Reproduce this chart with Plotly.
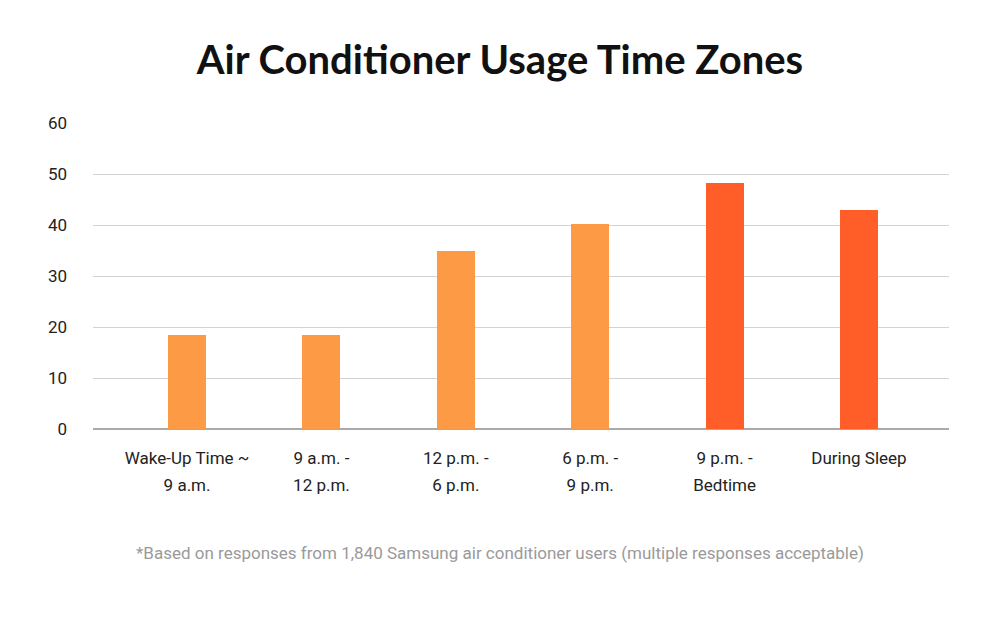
import plotly.graph_objects as go

line1_labels = ["Wake-Up Time ~", "9 a.m. -", "12 p.m. -", "6 p.m. -", "9 p.m. -", "During Sleep"]
line2_labels = ["9 a.m.", "12 p.m.", "6 p.m.", "9 p.m.", "Bedtime", ""]
values = [18.4, 18.4, 34.9, 40.2, 48.3, 43.0]
bar_colors = ["#FD9A45", "#FD9A45", "#FD9A45", "#FD9A45", "#FF5E29", "#FF5E29"]
y_ticks = [0, 10, 20, 30, 40, 50, 60]

x_pos = list(range(len(line1_labels)))
x_range = [-0.70, 5.67]

fig = go.Figure()
fig.add_trace(go.Bar(
    x=x_pos, y=values, marker=dict(color=bar_colors, line=dict(width=0)),
    width=0.283, hoverinfo="y",
))
# invisible trace to activate the second x axis carrying the second label line
fig.add_trace(go.Scatter(x=x_pos, y=values, xaxis="x2", mode="markers",
                         marker=dict(opacity=0), hoverinfo="skip"))

tick_font = dict(size=17, color="#222222", family="Roboto, sans-serif")

fig.update_layout(
    width=1000, height=623,
    margin=dict(l=85, r=59, t=115, b=202),
    paper_bgcolor="white", plot_bgcolor="white",
    showlegend=False,
    font=dict(family="Roboto, Noto Sans, sans-serif", color="#222222"),
    title=dict(text="<b>Air Conditioner Usage Time Zones</b>",
               x=0.492, xanchor="center", y=0.9165, yanchor="middle",
               font=dict(size=40, color="#111111", family="Lato, Roboto, sans-serif")),
    xaxis=dict(
        range=x_range, tickvals=x_pos, ticktext=line1_labels,
        showgrid=False, zeroline=False, showline=False, ticks="",
        ticklabelstandoff=17, tickfont=tick_font,
    ),
    xaxis2=dict(
        range=x_range, tickvals=x_pos, ticktext=line2_labels, overlaying="x", side="bottom",
        showgrid=False, zeroline=False, showline=False, ticks="",
        ticklabelstandoff=44, tickfont=tick_font,
    ),
    yaxis=dict(
        range=[0, 60], tickvals=y_ticks, showgrid=True, gridcolor="#D3D3D3", gridwidth=1,
        zeroline=True, zerolinecolor="#AAAAAA", zerolinewidth=2,
        showline=False, ticks="", ticklabelstandoff=25,
        tickfont=tick_font,
    ),
    bargap=0,
)

fig.add_annotation(
    text="*Based on responses from 1,840 Samsung air conditioner users (multiple responses acceptable)",
    xref="paper", yref="paper", x=0.4755, y=-0.405, xanchor="center", yanchor="middle",
    showarrow=False, font=dict(size=17, color="#9A9A9A", family="Roboto, sans-serif"),
)

fig.write_html("out.html")
